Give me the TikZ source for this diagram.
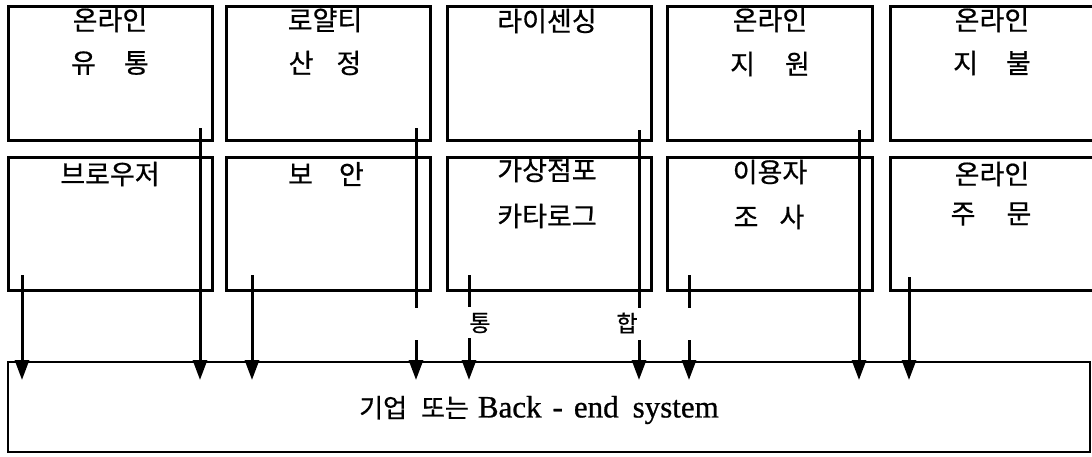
\documentclass[tikz,border=0pt]{standalone}
\usepackage{fontspec}
\setmainfont{Liberation Serif}[FakeBold=0.8]
\newfontfamily\kr{Noto Sans CJK KR}[FakeBold=0.6]
\usetikzlibrary{arrows.meta}
\begin{document}
\begin{tikzpicture}[x=1pt,y=-1pt,
 box/.style={draw, line width=3pt, inner sep=0pt, minimum width=204pt, minimum height=134pt},
 lbl/.style={inner sep=0pt, font=\kr\fontsize{27}{32}\selectfont},
 small/.style={inner sep=0pt, font=\kr\fontsize{23}{28}\selectfont},
 flow/.style={line width=3pt},
 flowtip/.style={line width=3pt, -{Triangle[width=14pt,length=20pt]}},
]
\useasboundingbox[fill=white] (0,0) rectangle (1092,456);
% top row boxes
\node[box] (t1) at (110,73) {};
\node[box] (t2) at (328,73) {};
\node[box] (t3) at (549,73) {};
\node[box, minimum width=205pt] (t4) at (769.5,73) {};
\node[box, minimum width=230pt] (t5) at (1005,73) {};
% bottom row boxes
\node[box, minimum height=133pt] (b1) at (110,223.5) {};
\node[box, minimum height=133pt] (b2) at (328,223.5) {};
\node[box, minimum height=133pt] (b3) at (549,223.5) {};
\node[box, minimum height=133pt, minimum width=205pt] (b4) at (769.5,223.5) {};
\node[box, minimum height=133pt, minimum width=230pt] (b5) at (1005,223.5) {};
% system box
\node[box, line width=2.6pt, minimum width=1082pt, minimum height=90pt] (sys) at (549,407) {};
% top row labels
\node[lbl] (t1a) at (110,20) {온라인};
\node[lbl] (t1b) at (110,63) {유\hspace{28pt}통};
\node[lbl] (t2a) at (325,20) {로얄티};
\node[lbl] (t2b) at (325,63) {산\hspace{23pt}정};
\node[lbl] (t3a) at (547,21) {라이센싱};
\node[lbl] (t4a) at (770,20) {온라인};
\node[lbl] (t4b) at (770,64) {지\hspace{30pt}원};
\node[lbl] (t5a) at (992,20) {온라인};
\node[lbl] (t5b) at (992,63) {지\hspace{28pt}불};
% bottom row labels
\node[lbl] (b1a) at (110,174) {브로우저};
\node[lbl] (b2a) at (326,174) {보\hspace{26pt}안};
\node[lbl] (b3a) at (547,170) {가상점포};
\node[lbl] (b3b) at (547,216) {카타로그};
\node[lbl] (b4a) at (770,172) {이용자};
\node[lbl] (b4b) at (769,217) {조\hspace{21pt}사};
\node[lbl] (b5a) at (992,174) {온라인};
\node[lbl] (b5b) at (991,214) {주\hspace{31pt}문};
% system label
\node[inner sep=0pt] (systxt) at (539,410) {{\kr\fontsize{26}{30}\selectfont 기업\hspace{14pt}또는}\hspace{9pt}{\fontsize{31}{36}\selectfont Back\hspace{11pt}-\hspace{11pt}end\hspace{14pt}system}};
% integration labels
\node[small] (tong) at (480,323) {통};
\node[small] (hap) at (627,323) {합};
% connector coordinates
\coordinate (sA) at (22,275);  \coordinate (eA) at (22,380);
\coordinate (sB) at (200,128); \coordinate (eB) at (200,380);
\coordinate (sC) at (252,275); \coordinate (eC) at (252,380);
\coordinate (sD) at (416,128); \coordinate (gD) at (416,308); \coordinate (hD) at (416,340); \coordinate (eD) at (416,380);
\coordinate (sE) at (469,275); \coordinate (gE) at (469,307); \coordinate (hE) at (469,338); \coordinate (eE) at (469,380);
\coordinate (sF) at (639,130); \coordinate (gF) at (639,308); \coordinate (hF) at (639,340); \coordinate (eF) at (639,380);
\coordinate (sG) at (689,275); \coordinate (gG) at (689,308); \coordinate (hG) at (689,340); \coordinate (eG) at (689,380);
\coordinate (sH) at (859,130); \coordinate (eH) at (859,380);
\coordinate (sI) at (909,277); \coordinate (eI) at (909,380);
% connectors
\draw[flowtip] (sA) -- (eA);
\draw[flowtip] (sB) -- (eB);
\draw[flowtip] (sC) -- (eC);
\draw[flow] (sD) -- (gD); \draw[flowtip] (hD) -- (eD);
\draw[flow] (sE) -- (gE); \draw[flowtip] (hE) -- (eE);
\draw[flow] (sF) -- (gF); \draw[flowtip] (hF) -- (eF);
\draw[flow] (sG) -- (gG); \draw[flowtip] (hG) -- (eG);
\draw[flowtip] (sH) -- (eH);
\draw[flowtip] (sI) -- (eI);
\end{tikzpicture}
\end{document}
